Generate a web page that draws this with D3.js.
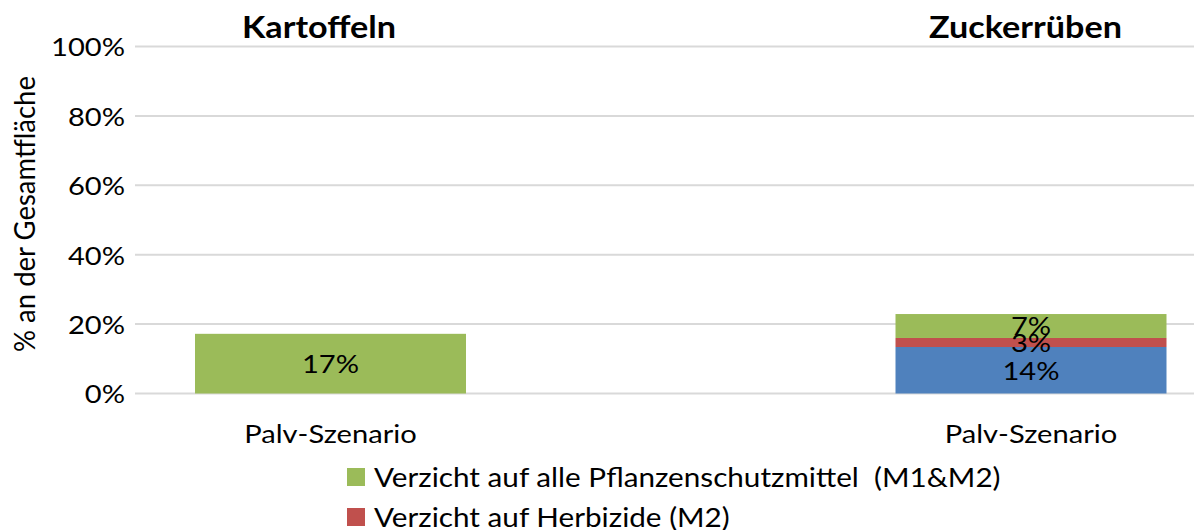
<!DOCTYPE html>
<html><head><meta charset="utf-8">
<script src="https://cdn.jsdelivr.net/npm/d3@7"></script>
<style>body{margin:0;background:#fff;}svg{display:block;font-family:Lato,"Open Sans",sans-serif;}</style>
</head><body>
<svg id="c" width="1194" height="530"></svg>
<script>
const panels = ["Kartoffeln", "Zuckerrüben"];
const category = "Palv-Szenario";
const seriesNames = ["Verzicht auf Fungizide", "Verzicht auf Herbizide (M2)", "Verzicht auf alle Pflanzenschutzmittel  (M1&M2)"];
const seriesColors = ["#4f81bd", "#c0504d", "#9bbb59"];
const fungizide = [0, 0.134];
const herbizide = [0, 0.026];
const alle = [0.172, 0.069];
const labels = [["", "", "17%"], ["14%", "3%", "7%"]];
const yTicks = [0, 0.2, 0.4, 0.6, 0.8, 1.0];
const legendItems = [2, 1];

const K = 1.12; // horizontal glyph stretch of the reference
const svg = d3.select("#c");
const y = d3.scaleLinear().domain([0, 1]).range([393.5, 46.5]);
const x = d3.scalePoint().domain(panels).range([330.5, 1031]);
const xTitle = d3.scalePoint().domain(panels).range([319, 1025.5]);
const barW = 271;
const place = (px, py) => `translate(${px},${py}) scale(${K},1)`;

// grid
svg.append("g").selectAll("line").data(yTicks).join("line")
  .attr("x1", 135).attr("x2", 1194)
  .attr("y1", d => y(d)).attr("y2", d => y(d))
  .attr("stroke", "#d9d9d9").attr("stroke-width", 2);

// y axis labels
const yAxis = d3.axisLeft(y).tickValues(yTicks).tickFormat(d3.format(".0%")).tickSize(0).tickPadding(0);
const ya = svg.append("g").attr("transform", `translate(125,0) scale(${K},1)`).call(yAxis);
ya.select(".domain").remove();
ya.selectAll("text").attr("font-size", 26).attr("fill", "#000").attr("font-family", "Lato, sans-serif").attr("dy", "0.36em");

// y title
svg.append("text").attr("transform", `translate(35,214) scale(1.05,1) rotate(-90)`)
  .attr("text-anchor", "middle").attr("font-size", 27.5).text("% an der Gesamtfläche");

// stacked bars
const rows = panels.map((p, i) => ({panel: p, s0: fungizide[i], s1: herbizide[i], s2: alle[i]}));
const stack = d3.stack().keys(["s0", "s1", "s2"])(rows);
stack.forEach((layer, k) => {
  svg.append("g").selectAll("rect").data(layer).join("rect")
    .attr("x", d => x(d.data.panel) - barW / 2)
    .attr("width", barW)
    .attr("y", d => y(d[1]))
    .attr("height", d => y(d[0]) - y(d[1]))
    .attr("fill", seriesColors[k]);
});
stack.forEach((layer, k) => {
  svg.append("g").selectAll("text").data(layer).join("text")
    .attr("transform", d => place(x(d.data.panel), (y(d[0]) + y(d[1])) / 2))
    .attr("dy", "0.36em")
    .attr("text-anchor", "middle").attr("font-size", 26)
    .text((d, i) => labels[i][k]);
});

// panel titles
svg.append("g").selectAll("text").data(panels).join("text")
  .attr("transform", d => place(xTitle(d), 37.5))
  .attr("text-anchor", "middle").attr("font-size", 30.5).attr("font-weight", "bold")
  .text(d => d);

// category labels
svg.append("g").selectAll("text").data(panels).join("text")
  .attr("transform", d => place(x(d), 443))
  .attr("text-anchor", "middle").attr("font-size", 26)
  .text(category);

// legend
const lg = svg.append("g").selectAll("g").data(legendItems).join("g")
  .attr("transform", (d, i) => `translate(347,${477 + i * 40})`);
lg.append("rect").attr("x", 0).attr("y", -9).attr("width", 18).attr("height", 18).attr("fill", d => seriesColors[d]);
lg.append("text").attr("transform", place(27, 0)).attr("dy", "0.36em").attr("font-size", 26.5)
  .style("white-space", "pre").text(d => seriesNames[d]);
</script>
</body></html>
